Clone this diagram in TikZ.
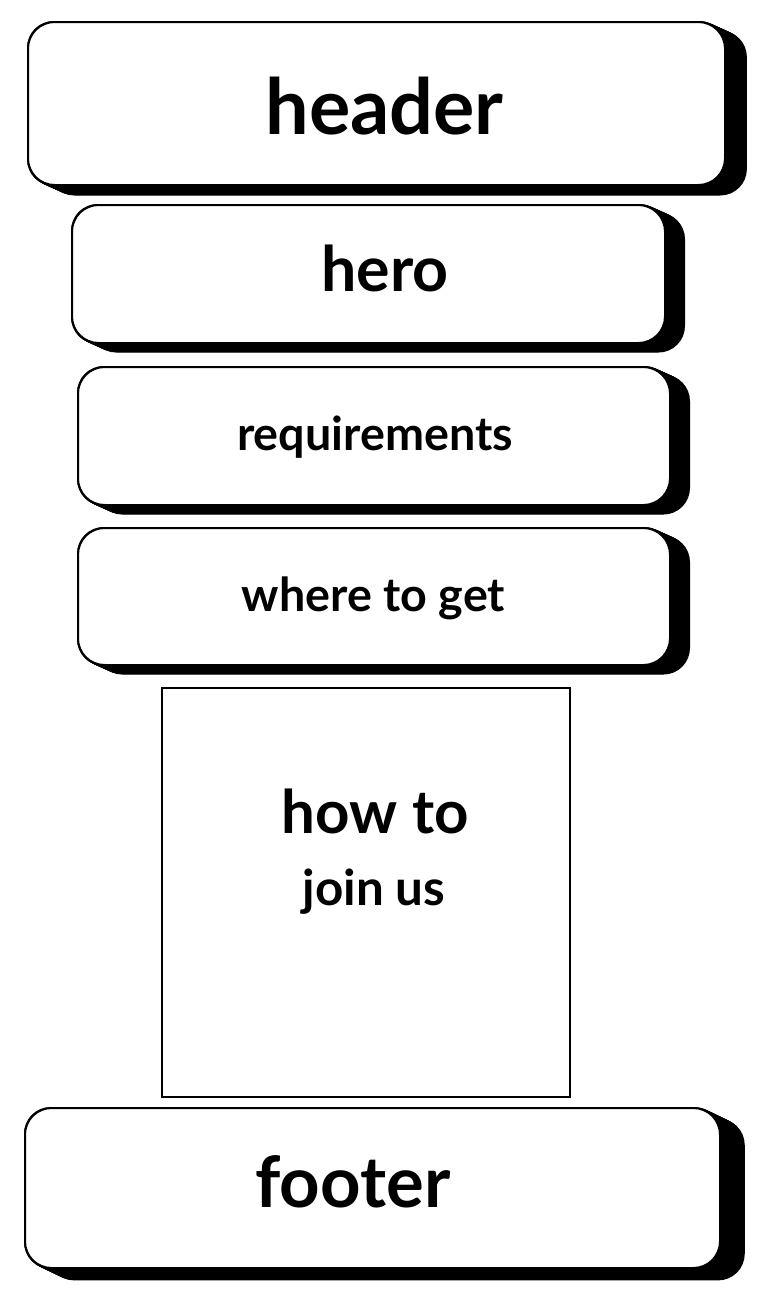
\documentclass[tikz,border=0pt]{standalone}
\usepackage{fontspec}
\setmainfont{Lato}
\usetikzlibrary{positioning, backgrounds}

\begin{document}
\begin{tikzpicture}[x=0.75pt, y=-0.75pt,
    bb/.style={%
      rectangle, rounded corners=20pt, draw=black, line width=1.5pt, fill=white,
      inner sep=0pt
    },
    box/.style={%
      rectangle, draw=black, line width=1.5pt, fill=white, inner sep=0pt
    },
    txt/.style={anchor=base, inner sep=0pt},
    huge/.style={txt, font=\bfseries\fontsize{58}{64}\selectfont},
    large/.style={txt, font=\bfseries\fontsize{47}{52}\selectfont},
    small/.style={txt, font=\bfseries\fontsize{35}{40}\selectfont},
    mid/.style={txt, font=\bfseries\fontsize{37}{42}\selectfont}
]
    \useasboundingbox (0,0) rectangle (768,1300);

    \node[bb, minimum width=522.75pt, minimum height=122.25pt] (header) at (376.5,103.5) {};
    \node[bb, minimum width=444.75pt, minimum height=103.5pt] (hero) at (368.5,274) {};
    \node[bb, minimum width=444pt, minimum height=103.5pt] (reqs) at (374,436) {};
    \node[bb, minimum width=444pt, minimum height=102.75pt] (where) at (374,596.5) {};
    \node[box, minimum width=306pt, minimum height=306.75pt] (join) at (366,892.5) {};
    \node[bb, minimum width=521.25pt, minimum height=120pt] (footer) at (372.5,1188) {};

    \node[huge] (headertxt) at (384.5,134) {header};
    \node[large] (herotxt) at (385,291) {hero};
    \node[small] (reqstxt) at (375,450) {requirements};
    \node[small] (wheretxt) at (373.5,611) {where to get};
    \node[txt, font=\bfseries\fontsize{45}{50}\selectfont] (howto) at (375,833) {how to};
    \node[mid] (joinus) at (374,905) {join us};
    \node[txt, font=\bfseries\fontsize{53}{58}\selectfont] (footertxt) at (353,1207) {footer};

    % extruded shadows
    \begin{scope}[on background layer]
      \foreach \n/\dx/\dy in {header/22/10, hero/20/9, reqs/20/9, where/20/9, footer/25/12}
        \foreach \s in {0,0.05,...,1}
          \fill[black, rounded corners=20pt]
            ([shift={(\s*\dx,\s*\dy)}]\n.south west) rectangle ([shift={(\s*\dx,\s*\dy)}]\n.north east);
    \end{scope}
\end{tikzpicture}
\end{document}
